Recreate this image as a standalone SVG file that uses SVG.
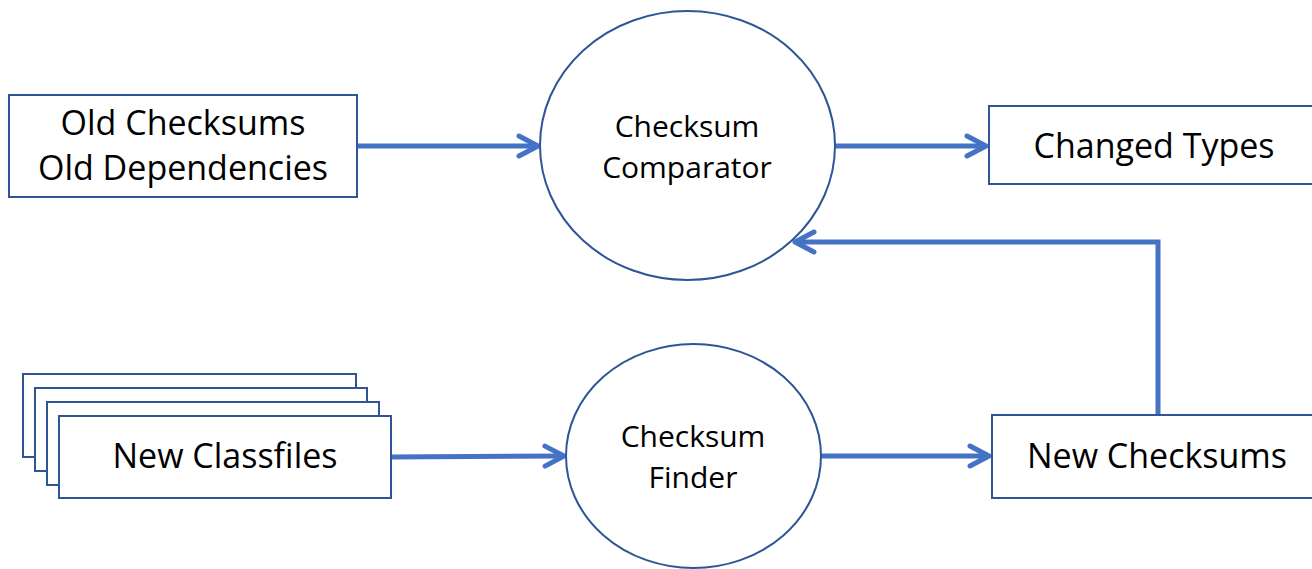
<svg xmlns="http://www.w3.org/2000/svg" width="1312" height="569" viewBox="0 0 1312 569">
  <style>
    .box { fill: #ffffff; stroke: #2F5597; stroke-width: 2; }
    .proc { fill: #ffffff; stroke: #2F5597; stroke-width: 2; }
    .lbl { font-family: "Open Sans", "Liberation Sans", sans-serif; fill: #000000; text-anchor: middle; }
    .big { font-size: 34px; }
    .mid { font-size: 30px; }
    .flow { fill: none; stroke: #4472C4; stroke-width: 5; stroke-linejoin: miter; marker-end: url(#chev); }
  </style>
  <defs>
    <marker id="chev" markerUnits="userSpaceOnUse" viewBox="-24 -14 28 28" refX="0" refY="0" markerWidth="28" markerHeight="28" orient="auto">
      <path d="M-19,-10 L0,0 L-19,10" fill="none" stroke="#4472C4" stroke-width="5" stroke-linecap="round" stroke-linejoin="round"/>
    </marker>
  </defs>

  <rect width="1312" height="569" fill="#ffffff"/>

  <!-- connectors -->
  <g id="connectors">
    <path class="flow" d="M357,146 L538,146"/>
    <path class="flow" d="M835,146 L986,146"/>
    <path class="flow" d="M1158,414 L1158,242 L795,242"/>
    <path class="flow" d="M391,457 L564,456"/>
    <path class="flow" d="M821,456 L989,456"/>
  </g>

  <g id="old-data">
    <rect class="box" x="9" y="95" width="348" height="102"/>
    <text class="lbl big" x="183" y="135">Old Checksums</text>
    <text class="lbl big" x="183" y="180">Old Dependencies</text>
  </g>

  <g id="checksum-comparator">
    <ellipse class="proc" cx="687.5" cy="145.5" rx="147.5" ry="134.5"/>
    <text class="lbl mid" x="687" y="137">Checksum</text>
    <text class="lbl mid" x="687" y="178">Comparator</text>
  </g>

  <g id="changed-types">
    <rect class="box" x="989" y="106" width="332" height="78"/>
    <text class="lbl big" x="1154" y="158">Changed Types</text>
  </g>

  <g id="new-classfiles">
    <rect class="box" x="23" y="374" width="333" height="83"/>
    <rect class="box" x="35" y="388" width="332" height="83"/>
    <rect class="box" x="47" y="402" width="332" height="83"/>
    <rect class="box" x="59" y="416" width="332" height="82"/>
    <text class="lbl big" x="225" y="468">New Classfiles</text>
  </g>

  <g id="checksum-finder">
    <ellipse class="proc" cx="693.5" cy="456" rx="127.5" ry="112"/>
    <text class="lbl mid" x="693" y="447">Checksum</text>
    <text class="lbl mid" x="693" y="488">Finder</text>
  </g>

  <g id="new-checksums">
    <rect class="box" x="992" y="415" width="332" height="83"/>
    <text class="lbl big" x="1157" y="468">New Checksums</text>
  </g>
</svg>
